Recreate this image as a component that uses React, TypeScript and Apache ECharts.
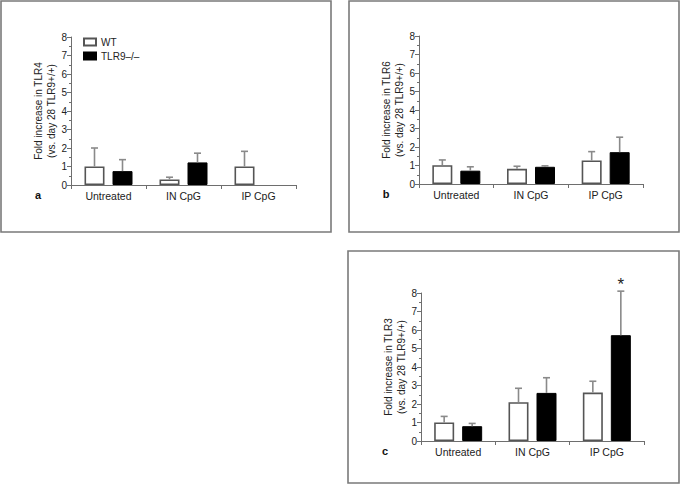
import React, { useEffect, useRef } from "react";
import * as echarts from "echarts";

const categories = ["Untreated", "IN CpG", "IP CpG"];
const seriesNames = ["WT", "TLR9–/–"];

// Panel a – TLR4
const tlr4WT = [1.0, 0.3, 1.0];
const tlr4WTErr = [2.0, 0.42, 1.82];
const tlr4KO = [0.75, 1.22, null];
const tlr4KOErr = [1.37, 1.72, null];

// Panel b – TLR6
const tlr6WT = [1.02, 0.82, 1.27];
const tlr6WTErr = [1.3, 0.96, 1.75];
const tlr6KO = [0.72, 0.93, 1.72];
const tlr6KOErr = [0.93, 0.98, 2.53];

// Panel c – TLR3
const tlr3WT = [1.0, 2.1, 2.62];
const tlr3WTErr = [1.33, 2.85, 3.23];
const tlr3KO = [0.8, 2.6, 5.72];
const tlr3KOErr = [0.95, 3.42, 8.1];
const tlr3KOSig = ["", "", "*"];

const panelLetters = ["a", "b", "c"];
const axisTitles = [
  "Fold increase in TLR4\n(vs. day 28 TLR9+/+)",
  "Fold increase in TLR6\n(vs. day 28 TLR9+/+)",
  "Fold increase in TLR3\n(vs. day 28 TLR9+/+)",
];

const FONT = "Liberation Sans, Arial, sans-serif";
const BAR_W = 20;
const BAR_GAP = 8;
const AXIS_COLOR = "#6e6e6e";

const grids = [
  { left: 71, top: 37, width: 225, height: 148 },
  { left: 419, top: 36, width: 224, height: 148 },
  { left: 421, top: 293, width: 223, height: 148 },
];
const panels = [
  { x: 1, y: 1, w: 330, h: 231 },
  { x: 349, y: 1, w: 330, h: 231 },
  { x: 348, y: 251, w: 331, h: 232 },
];

function errSeries(
  gi: number,
  name: string,
  vals: (number | null)[],
  errs: (number | null)[],
  side: number,
  sig?: string[]
) {
  const data: any[] = [];
  vals.forEach((v, i) => {
    if (v != null && errs[i] != null) data.push([i, v, errs[i], sig ? sig[i] : ""]);
  });
  return {
    type: "custom",
    name: name + "-err",
    xAxisIndex: gi,
    yAxisIndex: gi,
    silent: true,
    z: 3,
    data,
    encode: { x: 0, y: [1, 2] },
    renderItem: (params: any, api: any) => {
      const i = api.value(0);
      const lo = api.coord([i, api.value(1)]);
      const hi = api.coord([i, api.value(2)]);
      const x = lo[0] + (side * (BAR_W + BAR_GAP)) / 2;
      const st = { stroke: "#8a8a8a", lineWidth: 1.6 };
      const children: any[] = [
        { type: "line", shape: { x1: x, y1: lo[1], x2: x, y2: hi[1] }, style: st },
        { type: "line", shape: { x1: x - 3.5, y1: hi[1], x2: x + 3.5, y2: hi[1] }, style: st },
      ];
      const s = data[params.dataIndex][3];
      if (s) {
        children.push({
          type: "text",
          style: {
            text: s,
            x: x,
            y: hi[1] + 2,
            align: "center",
            verticalAlign: "bottom",
            fontSize: 17,
            fontFamily: FONT,
            fill: "#222",
          },
        });
      }
      return { type: "group", children };
    },
  };
}

function barSeries(gi: number, name: string, vals: (number | null)[], dark: boolean) {
  return {
    type: "bar",
    name,
    xAxisIndex: gi,
    yAxisIndex: gi,
    barWidth: BAR_W,
    barGap: (BAR_GAP / BAR_W) * 100 + "%",
    z: 2,
    data: vals.map((v) => (v == null ? "-" : v)),
    itemStyle: dark
      ? { color: "#000", borderColor: "#000", borderWidth: 1 }
      : { color: "#fff", borderColor: "#555", borderWidth: 1.6 },
  };
}

export default function App() {
  const ref = useRef<HTMLDivElement>(null);
  useEffect(() => {
    if (!ref.current) return;
    const chart = echarts.init(ref.current, undefined, { renderer: "svg" });
    const wt = [tlr4WT, tlr6WT, tlr3WT];
    const wtE = [tlr4WTErr, tlr6WTErr, tlr3WTErr];
    const ko = [tlr4KO, tlr6KO, tlr3KO];
    const koE = [tlr4KOErr, tlr6KOErr, tlr3KOErr];
    const series: any[] = [];
    for (let g = 0; g < 3; g++) {
      series.push(barSeries(g, seriesNames[0], wt[g], false));
      series.push(barSeries(g, seriesNames[1], ko[g], true));
      series.push(errSeries(g, seriesNames[0], wt[g], wtE[g], -1));
      series.push(errSeries(g, seriesNames[1], ko[g], koE[g], 1, g === 2 ? tlr3KOSig : undefined));
    }
    const graphics: any[] = [];
    panels.forEach((p, i) => {
      graphics.push({
        type: "rect",
        shape: { x: p.x, y: p.y, width: p.w, height: p.h },
        style: { fill: "none", stroke: "#7a7a7a", lineWidth: 1.6 },
        silent: true,
      });
      graphics.push({
        type: "text",
        style: {
          text: panelLetters[i],
          x: p.x + 37,
          y: grids[i].top + grids[i].height + 10,
          align: "center",
          verticalAlign: "middle",
          fontSize: 11,
          fontWeight: "bold",
          fontFamily: FONT,
          fill: "#111",
        },
      });
    });
    chart.setOption({
      animation: false,
      backgroundColor: "#fff",
      grid: grids.map((g) => ({ ...g, containLabel: false })),
      legend: {
        orient: "vertical",
        left: 83,
        top: 37,
        padding: 0,
        itemWidth: 12,
        itemHeight: 7,
        itemGap: 4,
        icon: "rect",
        data: seriesNames,
        textStyle: { fontSize: 10, fontFamily: FONT, color: "#222", padding: [0, 0, 0, 0] },
        selectedMode: false,
      },
      xAxis: grids.map((_, gi) => ({
        type: "category",
        gridIndex: gi,
        data: categories,
        boundaryGap: true,
        axisLine: { show: true, lineStyle: { color: AXIS_COLOR, width: 1 } },
        axisTick: { show: true, length: 4, alignWithLabel: false, lineStyle: { color: AXIS_COLOR } },
        axisLabel: { fontSize: 10.5, fontFamily: FONT, color: "#222", margin: 5 },
        splitLine: { show: false },
      })),
      yAxis: grids.map((_, gi) => ({
        type: "value",
        gridIndex: gi,
        min: 0,
        max: 8,
        interval: 1,
        splitLine: { show: false },
        axisLine: { show: true, lineStyle: { color: AXIS_COLOR, width: 1 } },
        axisTick: { show: true, length: 4, lineStyle: { color: AXIS_COLOR } },
        minorTick: { show: true, splitNumber: 2, length: 2, lineStyle: { color: AXIS_COLOR } },
        axisLabel: { fontSize: 10, fontFamily: FONT, color: "#222", margin: 4 },
        name: axisTitles[gi],
        nameLocation: "middle",
        nameGap: 11,
        nameTextStyle: { fontSize: 10, fontFamily: FONT, color: "#222", lineHeight: 13, align: "center" },
      })),
      series,
      graphic: graphics,
    });
    return () => chart.dispose();
  }, []);
  return (
    <div
      ref={ref}
      style={{ position: "fixed", left: 0, top: 0, width: 680, height: 484, background: "#fff" }}
    />
  );
}
